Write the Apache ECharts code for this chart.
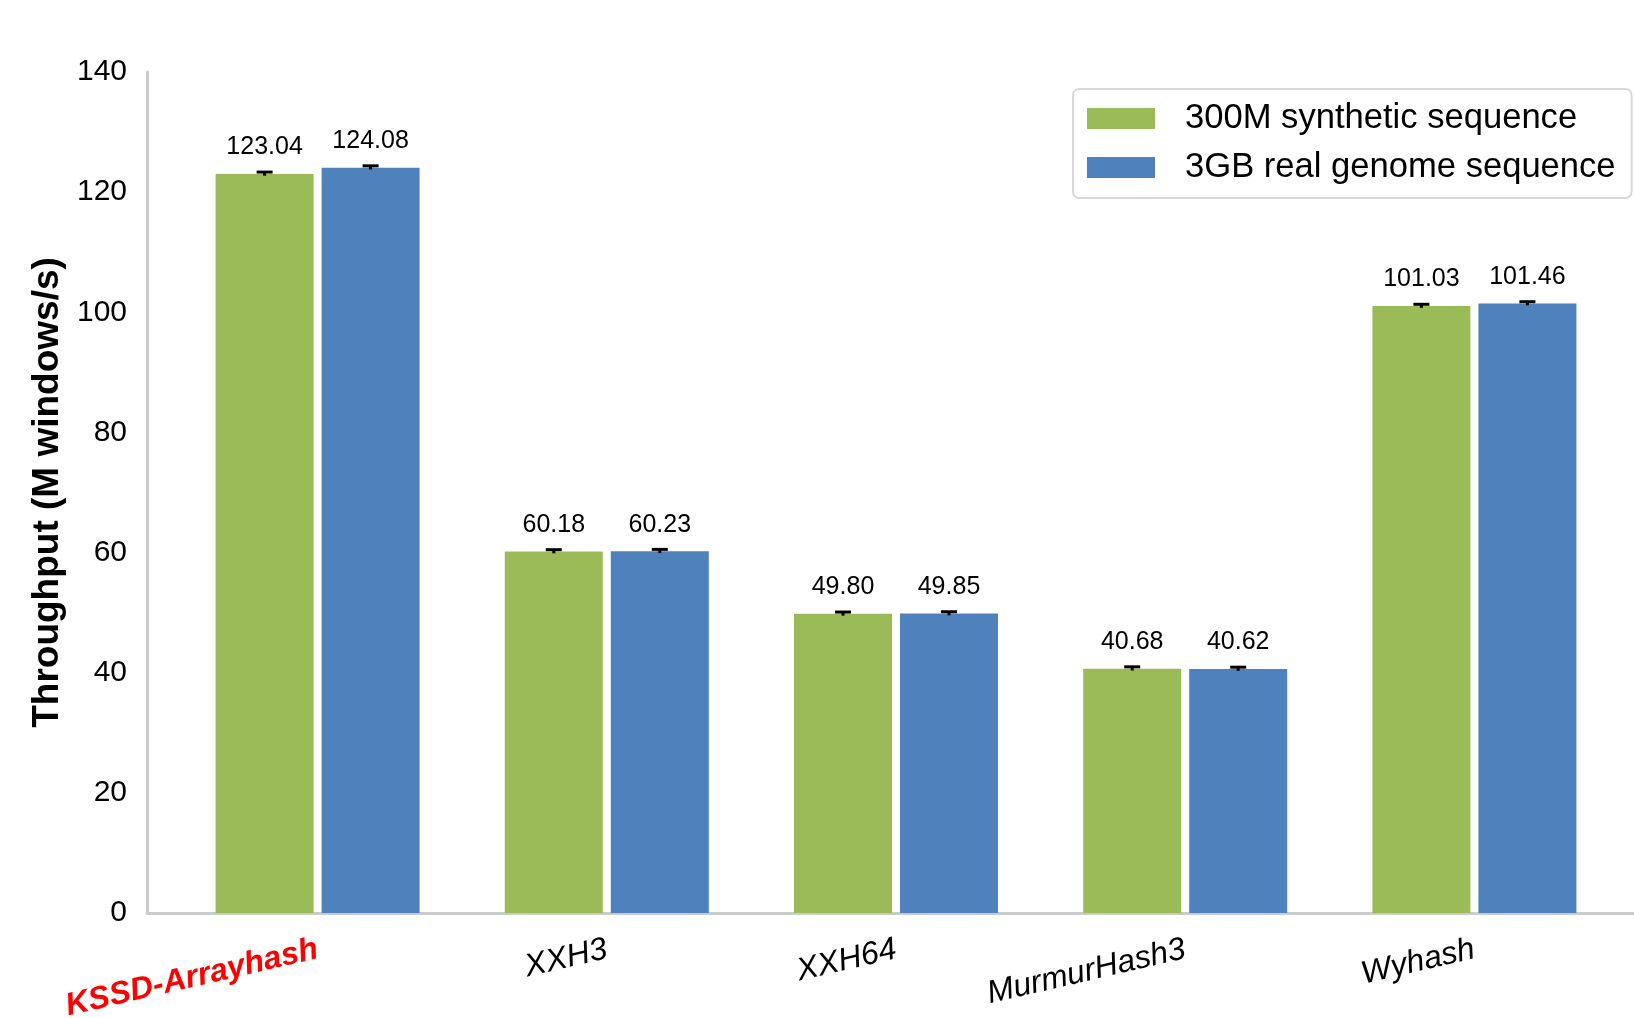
<!DOCTYPE html>
<html><head><meta charset="utf-8">
<script src="https://cdn.jsdelivr.net/npm/echarts@6/dist/echarts.min.js"></script>
<style>html,body{margin:0;padding:0;background:#fff}#c{width:1634px;height:1018px}</style>
</head><body><div id="c"></div>
<script>
const categories = ['KSSD-Arrayhash', 'XXH3', 'XXH64', 'MurmurHash3', 'Wyhash'];
const synthetic = [123.04, 60.18, 49.80, 40.68, 101.03];
const genome = [124.08, 60.23, 49.85, 40.62, 101.46];
const synthErr = [0.3, 0.3, 0.3, 0.3, 0.3];
const genomeErr = [0.3, 0.3, 0.3, 0.3, 0.3];
const seriesNames = ['300M synthetic sequence', '3GB real genome sequence'];
const yTicks = [0, 20, 40, 60, 80, 100, 120, 140];

const FONT = '"Liberation Sans", Arial, sans-serif';
const BAR_W = 98, GAP = 8;
const chart = echarts.init(document.getElementById('c'));

function errSeries(vals, errs, side) {
  return {
    type: 'custom',
    silent: true,
    z: 5,
    data: vals.map((v, i) => [i, v, errs[i]]),
    renderItem: function (params, api) {
      const i = api.value(0), v = api.value(1), e = api.value(2);
      const off = side * (BAR_W + GAP) / 2;
      const top = api.coord([i, v + e]);
      const bot = api.coord([i, v - e]);
      const x = top[0] + off;
      const hw = 8;
      const st = { stroke: '#000', lineWidth: 3 };
      return { type: 'group', children: [
        { type: 'line', shape: { x1: x, y1: top[1], x2: x, y2: bot[1] }, style: st },
        { type: 'line', shape: { x1: x - hw, y1: top[1], x2: x + hw, y2: top[1] }, style: st }
      ]};
    }
  };
}

const labelCfg = {
  show: true, position: 'top', distance: 14, color: '#000',
  fontFamily: FONT, fontSize: 25,
  formatter: p => p.value.toFixed(2)
};

chart.setOption({
  animation: false,
  backgroundColor: '#fff',
  textStyle: { fontFamily: FONT },
  grid: [
    { left: 173, right: 15, top: 72, bottom: 105, containLabel: false, outerBoundsMode: 'none' },
    { left: 147, right: 0, top: 72, bottom: 105, containLabel: false, outerBoundsMode: 'none' }
  ],
  legend: {
    orient: 'vertical', left: 1073, top: 89,
    data: seriesNames,
    itemWidth: 68, itemHeight: 21, itemGap: 14,
    padding: [12, 16, 13, 14],
    borderColor: '#d9d9d9', borderWidth: 2, borderRadius: 6,
    textStyle: { fontFamily: FONT, fontSize: 34.6, lineHeight: 35, color: '#000', padding: [0, 0, 0, 25] },
    icon: 'rect'
  },
  xAxis: [{
    type: 'category', data: categories, gridIndex: 0,
    axisLine: { show: false },
    axisTick: { show: false },
    axisLabel: {
      rotate: 13, margin: 36, fontFamily: FONT, fontSize: 32, color: '#000',
      fontStyle: 'italic',
      interval: 0,
      formatter: (v, i) => i === 0 ? '{hl|' + v + '}' : v,
      rich: { hl: { color: '#ff0000', fontWeight: 'bold', fontStyle: 'italic', fontSize: 32, fontFamily: FONT } }
    }
  }, {
    type: 'value', gridIndex: 1, min: 0, max: 1,
    axisLine: { show: true, lineStyle: { color: '#cbcbcb', width: 3 } },
    axisTick: { show: false }, axisLabel: { show: false }, splitLine: { show: false }
  }],
  yAxis: [{
    type: 'value', gridIndex: 0, min: yTicks[0], max: yTicks[yTicks.length - 1], interval: 20,
    offset: 26,
    name: 'Throughput (M windows/s)', nameLocation: 'middle', nameGap: 74, nameRotate: 90,
    nameTextStyle: { fontFamily: FONT, fontSize: 37, fontWeight: 'bold', color: '#000' },
    axisLine: { show: true, lineStyle: { color: '#cbcbcb', width: 3 } },
    axisTick: { show: false },
    splitLine: { show: false },
    axisLabel: { fontFamily: FONT, fontSize: 30, color: '#000', margin: 20, padding: [8, 0, 0, 0] }
  }, {
    type: 'value', gridIndex: 1, show: false, min: 0, max: 1
  }],
  series: [
    { name: seriesNames[0], type: 'bar', data: synthetic, barWidth: BAR_W, barGap: (GAP / BAR_W * 100) + '%',
      itemStyle: { color: '#9bbb59' }, label: labelCfg },
    { name: seriesNames[1], type: 'bar', data: genome, barWidth: BAR_W,
      itemStyle: { color: '#4f81bd' }, label: labelCfg },
    errSeries(synthetic, synthErr, -1),
    errSeries(genome, genomeErr, 1)
  ]
});
</script></body></html>
